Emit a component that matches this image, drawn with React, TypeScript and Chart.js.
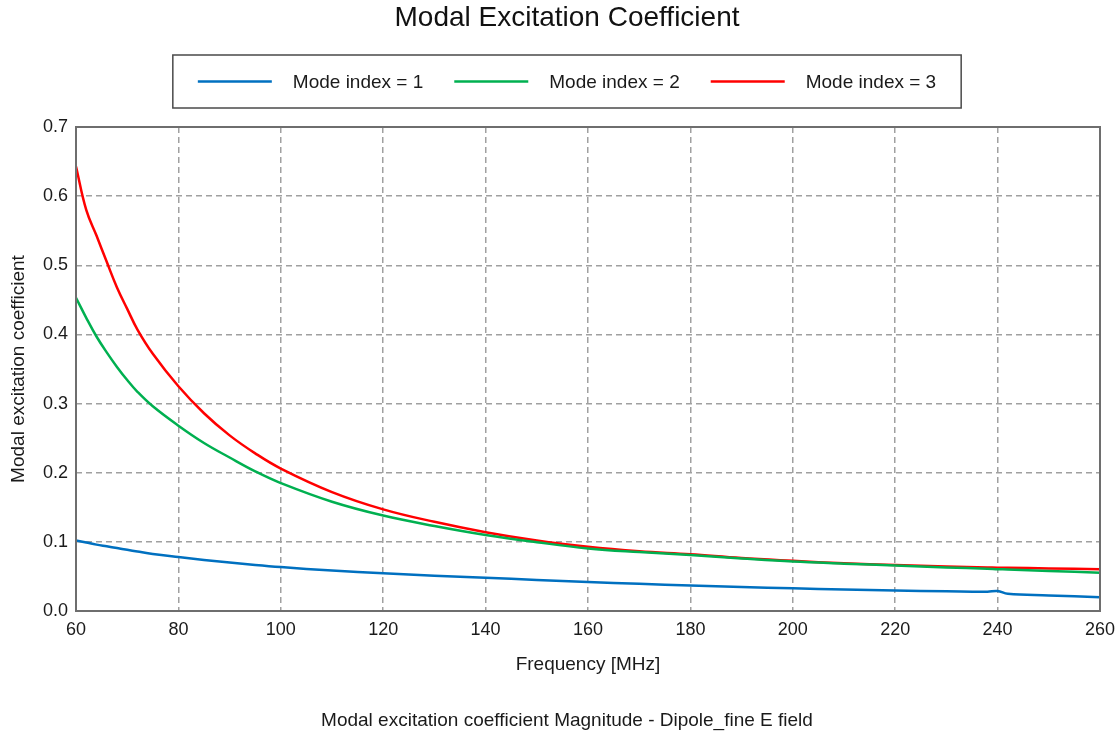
import React, { useEffect, useRef } from "react";
import { Chart, registerables } from "chart.js";

Chart.register(...registerables);

// ---- Data ----
const frequencies = [60, 62, 64, 66, 68, 70, 72, 75, 80, 85, 90, 95, 100, 110, 120, 130, 140, 150, 160, 170, 180, 190, 200, 210, 220, 230, 238, 240, 242, 250, 260];
const mode1 = [0.102, 0.099, 0.096, 0.0935, 0.091, 0.0885, 0.086, 0.0825, 0.078, 0.0738, 0.070, 0.0665, 0.0635, 0.0585, 0.0545, 0.051, 0.048, 0.045, 0.042, 0.0393, 0.0368, 0.0347, 0.0328, 0.031, 0.0296, 0.0285, 0.0278, 0.029, 0.0248, 0.0225, 0.020];
const mode2 = [0.453, 0.424, 0.397, 0.374, 0.353, 0.334, 0.317, 0.296, 0.268, 0.243, 0.222, 0.202, 0.185, 0.158, 0.138, 0.123, 0.110, 0.0995, 0.0905, 0.0852, 0.081, 0.076, 0.0715, 0.0685, 0.0658, 0.063, 0.0612, 0.0605, 0.060, 0.058, 0.0555];
const mode3 = [0.643, 0.58, 0.543, 0.505, 0.468, 0.437, 0.407, 0.372, 0.325, 0.286, 0.254, 0.228, 0.206, 0.172, 0.147, 0.129, 0.114, 0.102, 0.093, 0.0865, 0.082, 0.0765, 0.0725, 0.069, 0.0665, 0.0645, 0.063, 0.0625, 0.0625, 0.0615, 0.0605];
const seriesLabels = ["Mode index = 1", "Mode index = 2", "Mode index = 3"];
const seriesColors = ["#0070C0", "#00B050", "#FF0000"];
const xMin = 60;
const xMax = 260;
const xStep = 20;
const yMin = 0;
const yMax = 0.7;
const yStep = 0.1;

const chartTitle = "Modal Excitation Coefficient";
const chartSubtitle = "Modal excitation coefficient Magnitude - Dipole_fine E field";
const xTitle = "Frequency [MHz]";
const yTitle = "Modal excitation coefficient";

const FONT = "'Liberation Sans', Arial, sans-serif";

const boxedLegend = {
  id: "boxedLegend",
  afterDraw(chart: any) {
    const ctx = chart.ctx as CanvasRenderingContext2D;
    const lineLength = 74;
    const textGap = 21;
    const itemGap = 31;
    const padX = 25;
    const top = 55;
    const height = 53;
    ctx.save();
    ctx.font = `19px ${FONT}`;
    const items = chart.data.datasets.map((ds: any) => ({
      text: ds.label as string,
      color: ds.borderColor as string,
      w: ctx.measureText(ds.label).width,
    }));
    const content =
      items.reduce((s: number, it: any) => s + lineLength + textGap + it.w, 0) +
      itemGap * (items.length - 1);
    const boxW = content + 2 * padX;
    const tb = chart.titleBlock;
    const cx = tb ? (tb.left + tb.right) / 2 : chart.width / 2;
    const left = cx - boxW / 2;
    ctx.fillStyle = "#ffffff";
    ctx.fillRect(left, top, boxW, height);
    ctx.strokeStyle = "#4a4a4a";
    ctx.lineWidth = 1.5;
    ctx.strokeRect(left, top, boxW, height);
    const cy = top + height / 2;
    let x = left + padX;
    ctx.textBaseline = "middle";
    ctx.textAlign = "left";
    for (const it of items) {
      ctx.beginPath();
      ctx.strokeStyle = it.color;
      ctx.lineWidth = 2.5;
      ctx.moveTo(x, cy);
      ctx.lineTo(x + lineLength, cy);
      ctx.stroke();
      x += lineLength + textGap;
      ctx.fillStyle = "#1a1a1a";
      ctx.fillText(it.text, x, cy + 1);
      x += it.w + itemGap;
    }
    ctx.restore();
  },
};

const plotFrame = {
  id: "plotFrame",
  afterDraw(chart: any) {
    const { ctx, chartArea } = chart;
    ctx.save();
    ctx.strokeStyle = "#6e6e6e";
    ctx.lineWidth = 2;
    ctx.strokeRect(chartArea.left, chartArea.top, chartArea.right - chartArea.left, chartArea.bottom - chartArea.top);
    ctx.restore();
  },
};

export default function App() {
  const canvasRef = useRef<HTMLCanvasElement | null>(null);

  useEffect(() => {
    if (!canvasRef.current) return;
    const series = [mode1, mode2, mode3];
    const chart = new Chart(canvasRef.current, {
      type: "line",
      data: {
        datasets: series.map((vals, i) => ({
          label: seriesLabels[i],
          data: frequencies.map((f, j) => ({ x: f, y: vals[j] })),
          borderColor: seriesColors[i],
          backgroundColor: seriesColors[i],
          borderWidth: 2.5,
          pointRadius: 0,
          tension: 0.4,
          fill: false,
        })),
      },
      options: {
        responsive: false,
        animation: false,
        layout: { padding: { left: 14, right: 0, top: 0, bottom: 0 } },
        plugins: {
          legend: { display: false },
          tooltip: { enabled: false },
          title: {
            display: true,
            text: chartTitle,
            color: "#111111",
            font: { family: FONT, size: 28, weight: "normal" },
            padding: { top: 1.5, bottom: 91.9 },
          },
          subtitle: {
            display: true,
            position: "bottom",
            text: chartSubtitle,
            color: "#1a1a1a",
            font: { family: FONT, size: 19, weight: "normal" },
            padding: { top: 0, bottom: 4.6 },
          },
        },
        scales: {
          x: {
            type: "linear",
            min: xMin,
            max: xMax,
            ticks: {
              stepSize: xStep,
              color: "#1a1a1a",
              font: { family: FONT, size: 18 },
              padding: 8,
              maxRotation: 0,
            },
            grid: {
              color: "#a0a0a0",
              lineWidth: 1.5,
              drawTicks: false,
            },
            border: { display: false, dash: [6, 4] },
            title: {
              display: true,
              text: xTitle,
              color: "#1a1a1a",
              font: { family: FONT, size: 19 },
              padding: { top: 0, bottom: 33.2 },
            },
            afterFit(scale: any) {
              scale.height = 98.6;
              scale.paddingRight = 20;
              scale.paddingLeft = 0;
            },
          },
          y: {
            type: "linear",
            min: yMin,
            max: yMax,
            ticks: {
              stepSize: yStep,
              color: "#1a1a1a",
              font: { family: FONT, size: 18 },
              padding: 8,
              callback: (v: any) => Number(v).toFixed(1),
            },
            grid: {
              color: "#a0a0a0",
              lineWidth: 1.5,
              drawTicks: false,
            },
            border: { display: false, dash: [6, 4] },
            title: {
              display: true,
              text: yTitle,
              color: "#1a1a1a",
              font: { family: FONT, size: 19 },
              padding: { top: -6.9, bottom: 0 },
            },
            afterFit(scale: any) {
              scale.width = 62;
            },
          },
        },
      },
      plugins: [plotFrame, boxedLegend],
    } as any);
    return () => chart.destroy();
  }, []);

  return (
    <div style={{ position: "fixed", left: 0, top: 0, width: 1120, height: 737, background: "#fff" }}>
      <canvas ref={canvasRef} width={1120} height={737} style={{ display: "block" }} />
    </div>
  );
}
